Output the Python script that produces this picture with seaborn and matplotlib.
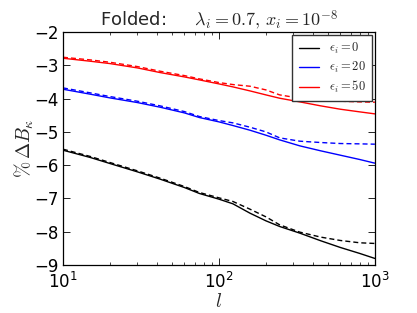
import numpy as np
import pandas as pd
import matplotlib
matplotlib.use("Agg")
import matplotlib.pyplot as plt
import seaborn as sns
from matplotlib.ticker import LogLocator, NullFormatter

# ---- data ----
ell = [10, 15, 20, 30, 42, 60, 75, 100, 123, 158, 200, 245, 330, 450, 600, 800, 1000]

black_solid = [-5.55, -5.77, -5.95, -6.20, -6.42, -6.67, -6.85, -7.02, -7.16, -7.44,
               -7.67, -7.84, -8.04, -8.27, -8.47, -8.65, -8.80]
black_dash = [-5.52, -5.74, -5.92, -6.17, -6.39, -6.64, -6.82, -6.98, -7.09, -7.32,
              -7.55, -7.79, -8.01, -8.16, -8.26, -8.33, -8.35]

blue_solid = [-3.72, -3.87, -3.98, -4.12, -4.26, -4.43, -4.57, -4.70, -4.81, -4.95,
              -5.10, -5.24, -5.42, -5.57, -5.70, -5.83, -5.94]
blue_dash = [-3.68, -3.83, -3.94, -4.08, -4.22, -4.39, -4.54, -4.66, -4.73, -4.86,
             -5.00, -5.18, -5.28, -5.32, -5.35, -5.36, -5.37]

red_solid = [-2.79, -2.88, -2.95, -3.08, -3.22, -3.35, -3.44, -3.56, -3.65, -3.77,
             -3.89, -3.99, -4.10, -4.22, -4.32, -4.40, -4.46]
red_dash = [-2.76, -2.84, -2.91, -3.04, -3.18, -3.31, -3.41, -3.52, -3.58, -3.63,
            -3.74, -3.89, -3.99, -4.05, -4.08, -4.10, -4.11]

labels = [r"$\epsilon_i=0$", r"$\epsilon_i=20$", r"$\epsilon_i=50$"]
colors = ["black", "blue", "red"]
yticks = [-2, -3, -4, -5, -6, -7, -8, -9]

sns.set_style("ticks")
plt.rcParams["font.family"] = ["DejaVu Sans"]
plt.rcParams.update({
    "xtick.direction": "in", "ytick.direction": "in",
    "xtick.top": True, "ytick.right": True,
    "xtick.major.size": 5, "xtick.minor.size": 2.5,
    "ytick.major.size": 5,
    "xtick.major.width": 0.6, "xtick.minor.width": 0.5, "ytick.major.width": 0.6,
    "axes.linewidth": 0.9, "axes.edgecolor": "black",
    "xtick.color": "black", "ytick.color": "black",
})

fig = plt.figure(figsize=(4.17, 3.13), dpi=100)
ax = fig.add_axes([0.151, 0.153, 0.748, 0.745])

solids = [black_solid, blue_solid, red_solid]
dashes = [black_dash, blue_dash, red_dash]
for s, d, c, lab in zip(solids, dashes, colors, labels):
    df = pd.DataFrame({"l": ell, "solid": s, "dash": d})
    sns.lineplot(data=df, x="l", y="solid", ax=ax, color=c, lw=1.0, label=lab)
    sns.lineplot(data=df, x="l", y="dash", ax=ax, color=c, lw=1.0,
                 linestyle=(0, (3.6, 2.2)), label="_nolegend_")

ax.set_xscale("log")
ax.set_xlim(10, 1000)
ax.set_ylim(-9, -2)
ax.set_yticks(yticks)
ax.xaxis.set_minor_locator(LogLocator(base=10, subs=np.arange(2, 10)))
ax.xaxis.set_minor_formatter(NullFormatter())
ax.tick_params(axis="y", labelsize=12, pad=3)
ax.tick_params(axis="x", labelsize=12, pad=5)

ax.set_xlabel(r"$l$", fontsize=14, math_fontfamily="cm", labelpad=0)
ax.set_ylabel(r"$\%\,\Delta B_\kappa$", fontsize=14, math_fontfamily="cm")
ax.yaxis.set_label_coords(-0.088, 0.5)
ax.set_title(r"Folded:     $\lambda_i=0.7,\,x_i=10^{-8}$", fontsize=13,
             math_fontfamily="cm", pad=3)

leg = ax.legend(loc="upper right", fontsize=9, fancybox=False, framealpha=1,
                edgecolor="#333333", borderaxespad=0.25, handlelength=1.6,
                labelspacing=0.3, handletextpad=0.8, borderpad=0.5)
leg.get_frame().set_linewidth(1.0)
for t in leg.get_texts():
    t.set_math_fontfamily("cm")

fig.savefig("out.png", dpi=100)
